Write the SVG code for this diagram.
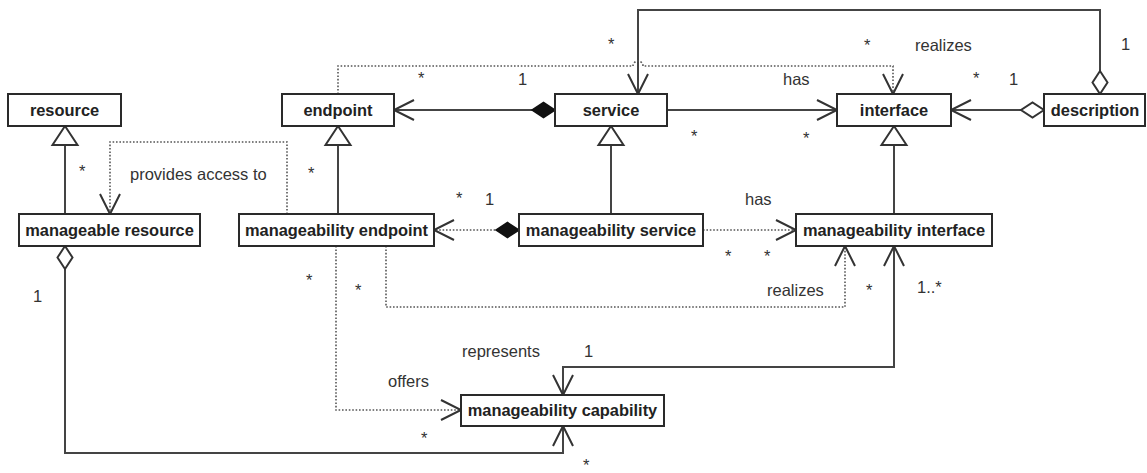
<svg xmlns="http://www.w3.org/2000/svg" width="1147" height="473" viewBox="0 0 1147 473">
  <style>
    .box { fill: #ffffff; stroke: #2a2a2a; stroke-width: 2; }
    .name { font-family: "Liberation Sans", Arial, sans-serif; font-size: 16.4px; font-weight: bold; fill: #222; text-anchor: middle; }
    .lbl { font-family: "Liberation Sans", Arial, sans-serif; font-size: 16.5px; fill: #333; }
    .solid { fill: none; stroke: #444; stroke-width: 2; }
    .dotted { fill: none; stroke: #555; stroke-width: 1.6; stroke-dasharray: 1.6 1.8; }
  </style>
  <defs>
    <!-- open navigability arrowhead, usable at either end -->
    <marker id="arrow" markerUnits="userSpaceOnUse" orient="auto-start-reverse" refX="0" refY="0" markerWidth="30" markerHeight="30" viewBox="-25 -15 30 30" overflow="visible">
      <path d="M-20,-10 L0,0 L-20,10" fill="none" stroke="#333" stroke-width="2"/>
    </marker>
    <!-- hollow generalization triangle -->
    <marker id="tri" markerUnits="userSpaceOnUse" orient="auto" refX="0" refY="0" markerWidth="30" markerHeight="30" viewBox="-25 -15 30 30" overflow="visible">
      <path d="M0,0 L-19,-12.5 L-19,12.5 Z" fill="#fff" stroke="#333" stroke-width="2"/>
    </marker>
    <!-- composition (filled) and aggregation (hollow) diamonds at path start -->
    <marker id="fdiamond" markerUnits="userSpaceOnUse" orient="auto" refX="0" refY="0" markerWidth="30" markerHeight="30" viewBox="-5 -15 30 30" overflow="visible">
      <path d="M0,0 L11.5,-7.5 L23,0 L11.5,7.5 Z" fill="#111" stroke="#111" stroke-width="1.5"/>
    </marker>
    <marker id="hdiamond" markerUnits="userSpaceOnUse" orient="auto" refX="0" refY="0" markerWidth="30" markerHeight="30" viewBox="-5 -15 30 30" overflow="visible">
      <path d="M0,0 L11.5,-7.5 L23,0 L11.5,7.5 Z" fill="#fff" stroke="#333" stroke-width="2"/>
    </marker>
  </defs>

  <rect width="1147" height="473" fill="#ffffff"/>

  <g id="connectors">
    <!-- generalizations -->
    <path class="solid" d="M65,214 V126" marker-end="url(#tri)"/>
    <path class="solid" d="M338,214 V126" marker-end="url(#tri)"/>
    <path class="solid" d="M611,214 V126" marker-end="url(#tri)"/>
    <path class="solid" d="M894,214 V126" marker-end="url(#tri)"/>
    <!-- service composes endpoint -->
    <path class="solid" d="M555,110 H394" marker-start="url(#fdiamond)" marker-end="url(#arrow)"/>
    <!-- service has interface -->
    <path class="solid" d="M667,110 H837" marker-end="url(#arrow)"/>
    <!-- description aggregates interface -->
    <path class="solid" d="M1044,110 H951" marker-start="url(#hdiamond)" marker-end="url(#arrow)"/>
    <!-- description aggregates service -->
    <path class="solid" d="M1100,94 V10 H638 V94" marker-start="url(#hdiamond)" marker-end="url(#arrow)"/>
    <!-- endpoint realizes interface (hops over the service line) -->
    <path class="dotted" d="M338,94 V66 H633 A5,5 0 0 1 643,66 H893 V94" marker-end="url(#arrow)"/>
    <!-- provides access to -->
    <path class="dotted" d="M287,214 V142 H110 V214" marker-end="url(#arrow)"/>
    <!-- manageability service composes manageability endpoint -->
    <path class="dotted" d="M519,230 H434" marker-start="url(#fdiamond)" marker-end="url(#arrow)"/>
    <!-- manageability service has manageability interface -->
    <path class="dotted" d="M703,230 H796" marker-end="url(#arrow)"/>
    <!-- manageability endpoint realizes manageability interface -->
    <path class="dotted" d="M386,246 V307 H845 V246" marker-end="url(#arrow)"/>
    <!-- offers -->
    <path class="dotted" d="M336,246 V410 H461" marker-end="url(#arrow)"/>
    <!-- represents -->
    <path class="solid" d="M894,246 V367 H563 V395" marker-start="url(#arrow)" marker-end="url(#arrow)"/>
    <!-- manageable resource aggregates capability -->
    <path class="solid" d="M65,246 V453 H563 V426" marker-start="url(#hdiamond)" marker-end="url(#arrow)"/>
  </g>

  <g id="labels">
    <text class="lbl" x="864" y="51">*</text>
    <text class="lbl" x="915" y="51">realizes</text>
    <text class="lbl" x="1121" y="50">1</text>
    <text class="lbl" x="608" y="50">*</text>
    <text class="lbl" x="418" y="84">*</text>
    <text class="lbl" x="518" y="85">1</text>
    <text class="lbl" x="783" y="85">has</text>
    <text class="lbl" x="973" y="84">*</text>
    <text class="lbl" x="1009" y="85">1</text>
    <text class="lbl" x="691" y="142">*</text>
    <text class="lbl" x="803" y="144">*</text>
    <text class="lbl" x="79" y="177">*</text>
    <text class="lbl" x="130" y="180">provides access to</text>
    <text class="lbl" x="308" y="179">*</text>
    <text class="lbl" x="456" y="204">*</text>
    <text class="lbl" x="485" y="205">1</text>
    <text class="lbl" x="745" y="205">has</text>
    <text class="lbl" x="725" y="262">*</text>
    <text class="lbl" x="764" y="262">*</text>
    <text class="lbl" x="306" y="286">*</text>
    <text class="lbl" x="355" y="296">*</text>
    <text class="lbl" x="767" y="296">realizes</text>
    <text class="lbl" x="866" y="296">*</text>
    <text class="lbl" x="917" y="293">1..*</text>
    <text class="lbl" x="33" y="302">1</text>
    <text class="lbl" x="462" y="357">represents</text>
    <text class="lbl" x="584" y="357">1</text>
    <text class="lbl" x="388" y="387">offers</text>
    <text class="lbl" x="421" y="444">*</text>
    <text class="lbl" x="583" y="471">*</text>
  </g>

  <g id="resource"><rect class="box" x="8" y="94" width="113" height="32"/><text class="name" x="64.5" y="116">resource</text></g>
  <g id="endpoint"><rect class="box" x="282" y="94" width="112" height="32"/><text class="name" x="338" y="116">endpoint</text></g>
  <g id="service"><rect class="box" x="555" y="94" width="112" height="32"/><text class="name" x="611" y="116">service</text></g>
  <g id="interface"><rect class="box" x="837" y="94" width="114" height="32"/><text class="name" x="894" y="116">interface</text></g>
  <g id="description"><rect class="box" x="1044" y="94" width="101" height="32"/><text class="name" x="1095" y="116">description</text></g>
  <g id="manageable-resource"><rect class="box" x="19" y="214" width="181" height="32"/><text class="name" x="109.5" y="236">manageable resource</text></g>
  <g id="manageability-endpoint"><rect class="box" x="239" y="214" width="195" height="32"/><text class="name" x="336.5" y="236">manageability endpoint</text></g>
  <g id="manageability-service"><rect class="box" x="519" y="214" width="184" height="32"/><text class="name" x="611" y="236">manageability service</text></g>
  <g id="manageability-interface"><rect class="box" x="796" y="214" width="196" height="32"/><text class="name" x="894" y="236">manageability interface</text></g>
  <g id="manageability-capability"><rect class="box" x="461" y="395" width="203" height="31"/><text class="name" x="562.5" y="416">manageability capability</text></g>
</svg>
